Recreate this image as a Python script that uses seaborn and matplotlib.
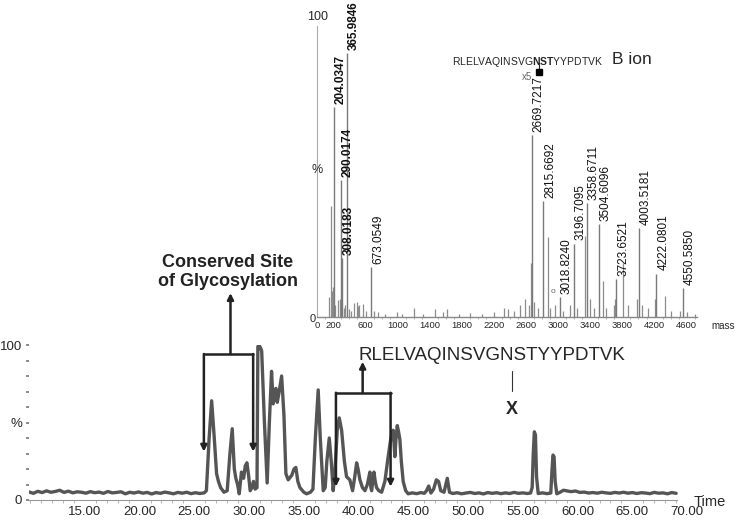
import numpy as np
import pandas as pd
import matplotlib
matplotlib.use('Agg')
import matplotlib.pyplot as plt
import seaborn as sns

sns.set_style('white')
plt.rcParams['font.family'] = ['Liberation Sans', 'DejaVu Sans']
plt.rcParams['mathtext.fontset'] = 'custom'
plt.rcParams['mathtext.rm'] = 'Liberation Sans'
plt.rcParams['mathtext.bf'] = 'Liberation Sans:bold'

#==============================================================================
# DATA
#==============================================================================
# chromatogram (retention time in min, relative intensity %)
chrom_time = [
    9.9, 10.3, 10.7, 11.1, 11.5, 11.9, 12.3, 12.7, 13.1, 13.5, 13.9, 14.3, 14.7, 15.1, 15.5, 15.9,
    16.3, 16.7, 17.1, 17.5, 17.9, 18.3, 18.7, 19.1, 19.5, 19.9, 20.3, 20.7, 21.1, 21.5, 21.9,
    22.3, 22.7, 23.1, 23.5, 23.9, 24.3, 24.7, 25.1, 25.5, 25.9,
    26.1, 26.35, 26.58, 26.8, 27.03, 27.2, 27.4, 27.7, 28.0, 28.25, 28.46, 28.65, 28.79, 28.95,
    29.1, 29.3, 29.5, 29.65, 29.8, 29.95, 30.1, 30.25, 30.4, 30.55, 30.72, 30.8, 30.9, 31.05,
    31.15, 31.4, 31.65, 31.85, 32.05, 32.2, 32.35, 32.45, 32.57, 32.75, 32.97, 33.1, 33.18,
    33.36, 33.57, 33.9, 34.1, 34.27, 34.45, 34.64, 35.0, 35.25, 35.6, 35.83, 36.05, 36.31,
    36.5, 36.77, 36.95, 37.1, 37.32, 37.5, 37.68, 37.85, 38.05, 38.23, 38.45, 38.7, 38.9,
    39.05, 39.2, 39.45, 39.65, 39.82, 39.95, 40.12, 40.35, 40.58, 40.8, 41.03, 41.12, 41.19,
    41.3, 41.4, 41.52, 41.64, 41.85, 42.1, 42.4, 42.7, 42.95, 43.16, 43.25, 43.31, 43.42,
    43.53, 43.65, 43.77, 43.9, 44.07, 44.3, 44.53,
    44.9, 45.3, 45.7, 46.0, 46.2, 46.4, 46.6, 46.85, 47.1, 47.3, 47.5, 47.8, 48.1, 48.3, 48.6,
    49.0, 49.4, 49.8, 50.2, 50.6, 51.0, 51.4, 51.8, 52.2, 52.6, 53.0, 53.4, 53.8, 54.2, 54.6,
    55.0, 55.4, 55.7, 55.85, 55.95, 56.05, 56.15, 56.25, 56.4, 56.8, 57.2, 57.55, 57.65, 57.75,
    57.85, 57.95, 58.1, 58.4, 58.7, 59.0, 59.4, 59.8, 60.2, 60.6, 61.0, 61.4, 61.8, 62.2, 62.6,
    63.0, 63.4, 63.8, 64.2, 64.6, 65.0, 65.4, 65.8, 66.2, 66.6, 67.0, 67.4, 67.8, 68.2, 68.6, 69.0,
]
chrom_pct = [
    5.2, 4.3, 5.6, 4.8, 5.9, 5.0, 5.5, 6.3, 4.9, 5.7, 4.6, 5.3, 5.0, 4.4, 5.4, 4.7,
    5.1, 4.3, 5.5, 4.6, 4.9, 5.3, 4.0, 5.0, 4.5, 5.2, 4.4, 4.9, 3.9, 4.8, 4.3,
    5.1, 4.6, 4.0, 4.9, 4.4, 5.0, 4.1, 4.7, 4.2, 4.6,
    6, 40, 64, 42, 17, 12, 8, 5, 6, 30, 46, 20, 14, 10,
    4, 18, 14, 22, 24, 16, 6, 8, 12, 7, 8, 99, 100, 98,
    96, 50, 11, 50, 83, 62, 70, 72, 63, 70, 80, 65, 55,
    17, 13, 16, 20, 21, 12, 8, 5, 4, 5, 7, 40, 71,
    40, 6, 8, 25, 40, 25, 6, 20, 45, 53, 45, 25, 15,
    14, 13, 6, 15, 24, 20, 13, 8, 6, 10, 18, 8, 6,
    12, 18, 12, 8, 6, 5, 12, 28, 40, 45, 35, 28, 40,
    48, 44, 39, 25, 12, 6, 4,
    4.6, 4.1, 4.8, 4.3, 6.0, 9.0, 4.5, 7.0, 13.0, 12.0, 6.0, 5.0, 14.0, 5.0, 4.2,
    4.7, 4.0, 4.5, 4.9, 4.2, 4.6, 3.9, 4.8, 4.3, 4.7, 4.1, 4.6, 4.2, 4.9, 4.3,
    4.6, 4.2, 4.5, 8, 30, 44, 42, 15, 4.2, 4.6, 4.1, 4.5, 18, 29,
    28, 12, 4.0, 5.0, 6.3, 5.9, 5.4, 5.8, 4.9, 5.1, 4.5, 4.8, 4.4, 5.0, 4.6,
    4.3, 4.9, 4.5, 5.0, 4.4, 4.8, 4.2, 4.7, 4.5, 4.1, 4.9, 4.4, 4.6, 4.0, 4.8, 4.3,
]
time_ticks = [15, 20, 25, 30, 35, 40, 45, 50, 55, 60, 65, 70]

# MS/MS spectrum - labelled peaks
ms_mz = [204.0347, 290.0174, 308.0183, 365.9846, 673.0549, 2669.7217, 2815.6692, 3018.8240,
         3196.7095, 3358.6711, 3504.6096, 3723.6521, 4003.5181, 4222.0801, 4550.5850]
ms_int = [70, 45.5, 19.5, 88, 16.7, 60.5, 38.6, 6.7, 24.4, 38, 31, 12.5, 29.7, 14.4, 9.7]
ms_bold = [True, True, True, True, False, False, False, False,
           False, False, False, False, False, False, False]

# unlabelled peaks
other_mz = [150, 168, 180, 195, 225, 260, 282, 330, 345, 390, 420, 460, 490, 510, 523, 565,
            610, 700, 760, 840, 990, 1050, 1205, 1320, 1460, 1560, 1620, 1760, 1900, 2050,
            2200, 2330, 2380, 2450, 2520, 2590, 2640, 2665, 2700, 2750, 2873, 2900, 2960, 3060,
            3150, 3230, 3340, 3400, 3440, 3562, 3600, 3690, 3710, 3807, 3870, 3980, 4050,
            4120, 4200, 4330, 4400, 4520, 4600, 4700]
other_int = [6.7, 37, 8.5, 10, 4, 5.5, 6, 3, 4, 2.5, 2, 4.5, 5, 3.5, 3.9, 4.4,
             2, 2, 1.5, 1, 1.5, 1, 3, 1, 2.5, 1.5, 2.5, 1, 1.2, 1,
             1.5, 3, 2.5, 2, 4, 6, 4, 18, 5, 3, 26.7, 3, 4, 2,
             4, 3, 27, 6, 3, 12, 3, 4, 6, 17.8, 4, 6, 4,
             3, 6, 7, 2, 2, 1.5, 1]
mass_ticks = [0, 200, 600, 1000, 1400, 1800, 2200, 2600, 3000, 3400, 3800, 4200, 4600]

chrom = pd.DataFrame({'time': chrom_time, 'pct': chrom_pct})

#==============================================================================
# FIGURE
#==============================================================================
W, H = 735, 520
fig = plt.figure(figsize=(W / 100, H / 100), dpi=100)

# ---- chromatogram ----
ax = fig.add_axes([29 / W, 20 / H, 661.4 / W, 155 / H])
ax.patch.set_alpha(0)
sns.lineplot(data=chrom, x='time', y='pct', ax=ax, color='#555555', lw=2.4, sort=False)
ax.set_xlim(9.9, 70.3)
ax.set_ylim(0, 100)
ax.set_xlabel('')
ax.set_ylabel('')
for s in ['top', 'right', 'left']:
    ax.spines[s].set_visible(False)
ax.spines['bottom'].set_color('#999999')
ax.spines['bottom'].set_linewidth(0.8)
ax.spines['bottom'].set_bounds(9.9, 69.1)
ax.set_xticks(time_ticks)
ax.set_xticklabels([f'{t:.2f}' for t in time_ticks])
ax.set_xticks(np.arange(10, 70, 1), minor=True)
ax.tick_params(axis='x', which='major', length=3, color='#999999', labelsize=9.5, pad=1)
ax.tick_params(axis='x', which='minor', length=2, color='#aaaaaa', bottom=True)
ax.set_yticks(range(0, 101, 10))
ax.set_yticklabels(['0', '', '', '', '', '%', '', '', '', '', '100'])
ax.tick_params(axis='y', length=2, width=1.2, color='#777777', labelsize=9.5, pad=3, left=True)
fig.text(694 / W, 1 - 502 / H, 'Time', fontsize=10.5, ha='left', va='center')

arrow = dict(arrowstyle='-|>', color='#222222', lw=1.8, mutation_scale=9, shrinkA=0, shrinkB=0)
# bracket 1 - conserved site
ax.plot([25.87, 30.37], [94.2, 94.2], color='#222222', lw=1.8, clip_on=False)
ax.annotate('', xy=(25.87, 31.2), xytext=(25.87, 94.2), arrowprops=arrow, annotation_clip=False)
ax.annotate('', xy=(30.37, 31.2), xytext=(30.37, 94.2), arrowprops=arrow, annotation_clip=False)
ax.annotate('', xy=(28.3, 133.5), xytext=(28.3, 94.2), arrowprops=arrow, annotation_clip=False)
# bracket 2 - peptide
ax.plot([37.93, 42.92], [69.2, 69.2], color='#222222', lw=1.8, clip_on=False)
ax.annotate('', xy=(37.93, 8.6), xytext=(37.93, 69.2), arrowprops=arrow, annotation_clip=False)
ax.annotate('', xy=(42.92, 8.6), xytext=(42.92, 69.2), arrowprops=arrow, annotation_clip=False)
ax.annotate('', xy=(40.37, 89.2), xytext=(40.37, 69.2), arrowprops=arrow, annotation_clip=False)

fig.text(228 / W, 1 - 272 / H, 'Conserved Site\nof Glycosylation', fontsize=13,
         fontweight='bold', ha='center', va='center', linespacing=1.15, color='#222222')
fig.text(358 / W, 1 - 356 / H, 'RLELVAQINSVGNSTYYPDTVK', fontsize=13.5, ha='left', va='center')
ax.plot([54.0, 54.0], [83.5, 70.5], color='#333333', lw=0.8, clip_on=False)
ax.text(54.0, 58.7, 'X', fontsize=13, fontweight='bold', ha='center', va='center')

# ---- MS/MS spectrum inset ----
ax2 = fig.add_axes([317.3 / W, 203.3 / H, 379.8 / W, 300 / H])
ax2.patch.set_alpha(0)
ax2.set_xlim(0, 4730)
ax2.set_ylim(0, 100)
ax2.vlines(other_mz, 0, other_int, color='#8c8c8c', lw=0.9)
ax2.vlines(ms_mz, 0, ms_int, color='#7a7a7a', lw=1.0)
for mz, h, b in zip(ms_mz, ms_int, ms_bold):
    ax2.text(mz + 12, h + 1.0, f'{mz:.4f}', rotation=90, ha='left', va='bottom',
             fontsize=8.5, fontweight='bold' if b else 'normal', color='#111111')
for s in ['top', 'right']:
    ax2.spines[s].set_visible(False)
ax2.spines['left'].set_color('#aaaaaa')
ax2.spines['left'].set_linewidth(0.8)
ax2.spines['left'].set_bounds(0, 97)
ax2.spines['bottom'].set_color('#888888')
ax2.spines['bottom'].set_linewidth(1.0)
ax2.set_yticks([])
ax2.set_xticks(mass_ticks)
ax2.set_xticklabels([str(m) for m in mass_ticks])
ax2.set_xticks(np.arange(0, 4701, 100), minor=True)
ax2.tick_params(axis='x', which='major', length=2, color='#999999', labelsize=6.8, pad=1)
ax2.tick_params(axis='x', which='minor', length=1.5, color='#aaaaaa', bottom=True)

fig.text(318 / W, 1 - 17 / H, '100', fontsize=9, ha='center', va='center')
fig.text(317 / W, 1 - 170 / H, '%', fontsize=9, ha='center', va='center')
fig.text(313 / W, 1 - 319 / H, '0', fontsize=8, ha='center', va='center')
fig.text(711 / W, 1 - 326 / H, 'mass', fontsize=7, ha='left', va='center')

# B ion annotation
fig.text(452 / W, 1 - 62 / H, r'RLELVAQINSVG$\mathbf{NST}$YYPDTVK', fontsize=7.5,
         ha='left', va='center')
fig.text(612 / W, 1 - 60 / H, 'B ion', fontsize=12.5, ha='left', va='center')
ax2.plot([2761, 2761], [84.5, 81.6], color='#222222', lw=0.8)
ax2.plot([2761], [81.6], marker='s', markersize=5, color='black')
ax2.text(2612, 79.9, 'x5', fontsize=7, color='#666666', ha='center', va='center')
ax2.text(2931, 8.3, 'o', fontsize=6, color='#666666', ha='center', va='center')

fig.savefig('out.png', dpi=100)
